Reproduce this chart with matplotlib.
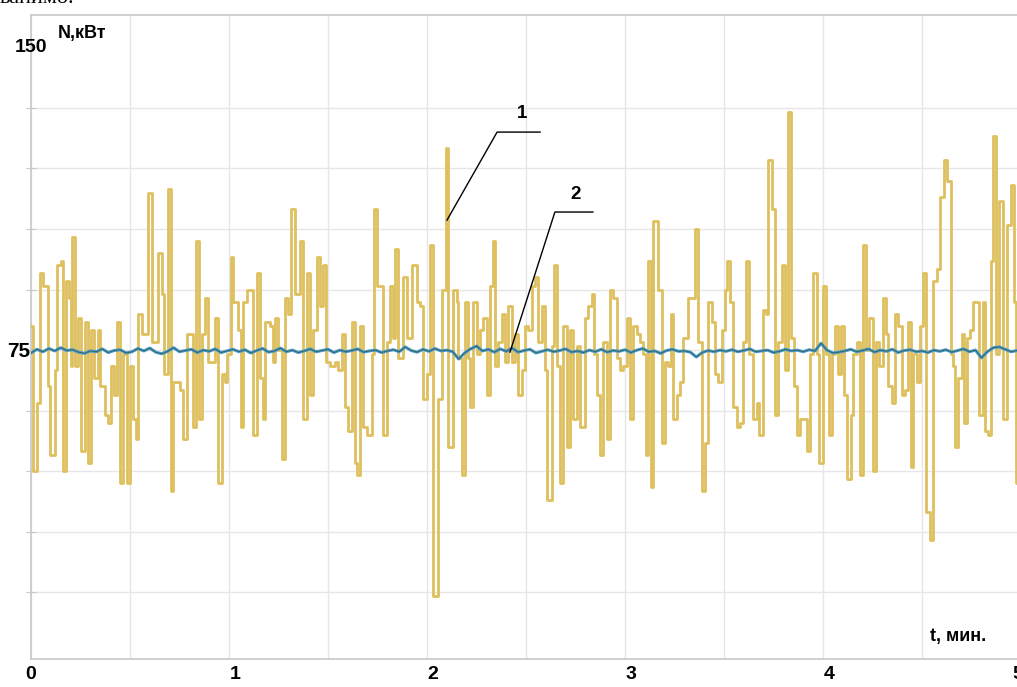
# -*- coding: utf-8 -*-
import numpy as np
import matplotlib
matplotlib.use('Agg')
import matplotlib.pyplot as plt

# curve 1: step signal, time (min) of each step start and its level (kW)
t1 = [0.000, 0.010, 0.030, 0.045, 0.061, 0.086, 0.096, 0.121, 0.131, 0.152,
      0.162, 0.177, 0.192, 0.202, 0.207, 0.222, 0.237, 0.253, 0.273, 0.288,
      0.303, 0.318, 0.338, 0.348, 0.374, 0.389, 0.404, 0.419, 0.434, 0.449,
      0.465, 0.485, 0.500, 0.515, 0.530, 0.540, 0.561, 0.591, 0.611, 0.641,
      0.662, 0.672, 0.692, 0.707, 0.717, 0.753, 0.768, 0.788, 0.818, 0.833,
      0.848, 0.864, 0.879, 0.894, 0.929, 0.944, 0.965, 0.980, 0.990, 1.010,
      1.020, 1.045, 1.061, 1.071, 1.091, 1.121, 1.141,
      1.157, 1.172, 1.182, 1.207, 1.222, 1.232, 1.247, 1.268, 1.283, 1.298,
      1.313, 1.333, 1.359, 1.374, 1.394, 1.409, 1.424, 1.444, 1.460, 1.475,
      1.490, 1.510, 1.535, 1.551, 1.571, 1.586, 1.601, 1.621, 1.636, 1.646,
      1.662, 1.677, 1.697, 1.722, 1.732, 1.747, 1.763, 1.778, 1.798, 1.813,
      1.828, 1.838, 1.854, 1.879, 1.899, 1.924, 1.949, 1.965, 1.980, 2.000,
      2.015, 2.030, 2.056, 2.076, 2.096,
      2.106, 2.131, 2.152, 2.157, 2.177, 2.192, 2.207, 2.217, 2.232, 2.253,
      2.268, 2.283, 2.303, 2.318, 2.333, 2.343, 2.359, 2.379, 2.394, 2.409,
      2.429, 2.444, 2.460, 2.480, 2.495, 2.510, 2.530, 2.545, 2.561, 2.581,
      2.596, 2.606, 2.631, 2.641, 2.657, 2.672, 2.687, 2.707, 2.722, 2.737,
      2.758, 2.773, 2.798, 2.813, 2.833, 2.843, 2.859, 2.874, 2.889, 2.909,
      2.924, 2.939, 2.960, 2.975, 2.990, 3.010, 3.025, 3.040, 3.061, 3.076,
      3.091, 3.106, 3.116, 3.131, 3.141,
      3.167, 3.187, 3.202, 3.217, 3.232, 3.242, 3.263, 3.278, 3.293, 3.318,
      3.338, 3.354, 3.369, 3.389, 3.404, 3.419, 3.439, 3.455, 3.470, 3.490,
      3.505, 3.515, 3.530, 3.545, 3.566, 3.581, 3.596, 3.611, 3.626, 3.646,
      3.667, 3.677, 3.697, 3.712, 3.722, 3.742, 3.758, 3.773, 3.793, 3.808,
      3.823, 3.838, 3.854, 3.869, 3.884, 3.899, 3.919, 3.934, 3.949, 3.970,
      3.980, 4.000, 4.015, 4.030, 4.045, 4.061, 4.076,
      4.091, 4.106, 4.121, 4.141, 4.152, 4.172, 4.187, 4.202, 4.217, 4.232,
      4.253, 4.268, 4.283, 4.303, 4.318, 4.328, 4.348, 4.364, 4.379, 4.399,
      4.414, 4.429, 4.444, 4.455, 4.475, 4.490, 4.505, 4.520, 4.540, 4.556,
      4.576, 4.591, 4.611, 4.626, 4.646, 4.657, 4.667, 4.682, 4.702, 4.712,
      4.727, 4.742, 4.758, 4.778, 4.788, 4.808, 4.818, 4.833, 4.848, 4.859,
      4.874, 4.889, 4.909, 4.929, 4.949, 4.965, 4.975, 5.000]
n1 = [81, 45, 62, 94, 91, 66, 49, 70, 96, 97,
      45, 92, 88, 71, 103, 71, 83, 50, 82, 47,
      80, 68, 80, 66, 59, 57, 71, 64, 82, 42,
      74, 42, 71, 58, 53, 84, 79, 114, 77, 99,
      89, 69, 115, 40, 67, 65, 53, 79, 56, 102,
      58, 79, 88, 72, 83, 42, 69, 67, 74, 98,
      87, 80, 56, 87, 90, 54, 94,
      68, 58, 82, 81, 72, 83, 75, 48, 88, 84,
      110, 89, 102, 58, 94, 64, 80, 98, 86, 96,
      72, 71, 72, 70, 79, 61, 55, 82, 47, 44,
      81, 56, 54, 74, 110, 91, 91, 54, 77, 91,
      78, 100, 73, 93, 78, 96, 87, 86, 63, 69,
      101, 14, 63, 90, 125,
      51, 90, 87, 73, 44, 87, 73, 61, 87, 74,
      80, 83, 64, 91, 102, 71, 77, 84, 72, 86,
      72, 79, 64, 70, 81, 80, 91, 93, 77, 86,
      70, 38, 76, 96, 71, 42, 81, 51, 80, 58,
      76, 56, 83, 86, 89, 74, 64, 49, 77, 53,
      90, 88, 73, 70, 71, 83, 58, 81, 79, 77,
      74, 49, 97, 41, 107,
      90, 52, 72, 71, 84, 58, 64, 67, 78, 88,
      88, 105, 77, 40, 52, 87, 82, 69, 67, 80,
      90, 97, 87, 61, 56, 57, 77, 97, 74, 58,
      62, 54, 85, 84, 122, 110, 59, 77, 96, 70,
      134, 78, 66, 54, 58, 58, 50, 74, 94, 74,
      47, 91, 74, 54, 74, 81, 69,
      81, 64, 43, 59, 74, 77, 44, 101, 75, 83,
      45, 77, 71, 88, 79, 66, 62, 84, 81, 64,
      65, 82, 46, 74, 67, 81, 94, 35, 28, 92,
      95, 113, 122, 117, 74, 71, 51, 68, 79, 57,
      78, 80, 87, 87, 59, 87, 55, 54, 97, 128,
      74, 112, 58, 106, 116, 87, 42, 42]

# curve 2: smoothed power near 75 kW, one reading every 0.03 min
n2 = [74.3, 75.2, 74.6, 75.4, 74.8, 75.6, 74.9, 75.1, 74.5, 74.2,
      74.8, 74.6, 75.3, 74.4, 74.9, 75.1, 74.3, 74.6, 75.4, 74.8,
      75.5, 74.5, 74.1, 74.7, 75.6, 74.6, 74.9, 75.2, 74.4, 75.0,
      74.7, 75.3, 74.4, 74.8, 75.2, 74.6, 75.1, 74.3, 74.9, 75.4,
      74.5, 74.8, 75.5, 74.6, 75.0, 74.4, 74.8, 75.3, 74.6, 74.9,
      75.2, 74.4, 75.0, 74.6, 74.9, 75.3, 74.5, 74.8, 75.0, 74.4,
      74.8, 75.1, 74.6, 75.8, 74.9, 74.5, 75.2, 74.7, 75.4, 74.8,
      75.0, 74.6, 72.8, 74.3, 75.3, 76.0, 74.8, 75.2, 74.5, 75.3,
      74.7, 75.5, 74.5, 74.9, 75.2, 74.3, 74.7, 75.1, 74.6, 74.9,
      75.3, 74.5, 74.8, 74.4, 75.0, 74.6, 75.2, 74.5, 74.9, 74.7,
      75.1, 74.4, 75.0, 75.4, 74.6, 74.8, 74.2, 74.9, 75.2, 74.7,
      74.8, 74.5, 73.3, 74.4, 74.9, 74.6, 75.0, 74.7, 75.1, 74.6,
      74.9, 75.3, 74.6, 74.8, 75.0, 74.4, 74.7, 75.2, 74.8, 75.0,
      74.6, 75.1, 74.8, 76.7, 75.0, 74.3, 74.5, 74.8, 75.2, 74.6,
      74.9, 75.3, 74.5, 75.0, 74.7, 75.2, 74.4, 74.9, 75.1, 74.6,
      74.8, 74.4, 75.0, 74.7, 75.1, 74.5, 74.9, 75.3, 74.6, 75.0,
      73.1, 74.6, 75.6, 75.8, 75.2, 74.6, 74.9]
t2 = np.round(np.arange(len(n2)) * 0.03, 2)

x_labels = [0, 1, 2, 3, 4, 5]
y_grid = [15, 30, 45, 60, 75, 90, 105, 120, 135]

fig = plt.figure(figsize=(10.17, 6.87), dpi=100)
ax = fig.add_axes([31 / 1017, 28 / 687, 990 / 1017, 644 / 687])

ax.step(t1, n1, where='post', color='#DEC05E', lw=2.0, zorder=3)
ax.plot(t2, n2, color='#4A9AD0', lw=2.2, zorder=4)
ax.plot(t2, n2, color='#35685F', lw=0.7, zorder=4)

ax.set_xlim(0, 5)
ax.set_ylim(-1.5, 158)

ax.set_xticks(np.arange(0, 5.01, 0.5))
ax.set_yticks(y_grid)
ax.grid(True, color='#E6E6E6', lw=1.0, zorder=0)
ax.tick_params(axis='x', length=0, labelbottom=False)
ax.tick_params(axis='y', direction='inout', length=7, color='#C8C8C8',
               labelleft=False)
for s in ['left', 'bottom', 'top']:
    ax.spines[s].set_color('#C8C8C8')
    ax.spines[s].set_linewidth(1.2)
ax.spines['right'].set_visible(False)

lab = dict(fontsize=14, fontweight='bold', family='Liberation Sans')
for v in x_labels:
    pos = min(v + 0.03, 4.985) if v else 0.0
    ax.text(pos, -3.2, str(v), ha='center', va='top', clip_on=False, **lab)
ax.text(0.0, 150, '150', ha='center', va='center', clip_on=False, zorder=6, **lab)
ax.text(-0.004, 74.6, '75', ha='right', va='center', clip_on=False, zorder=6,
        fontsize=15, fontweight='bold', family='Liberation Sans')
ax.text(0.135, 153.5, 'N,кВт', ha='left', va='center', fontsize=13,
        fontweight='bold', family='Liberation Sans')
ax.text(4.54, 4.0, 't, мин.', ha='left', va='center', fontsize=13,
        fontweight='bold', family='Liberation Sans')

# leaders
ax.plot([2.101, 2.354, 2.571], [107.2, 129.0, 129.0], color='black', lw=1.0, zorder=5)
ax.text(2.48, 131.5, '1', ha='center', va='bottom', fontsize=13.5, fontweight='bold',
        family='Liberation Sans')
ax.plot([2.419, 2.646, 2.838], [74.5, 109.2, 109.2], color='black', lw=1.0, zorder=5)
ax.text(2.75, 111.5, '2', ha='center', va='bottom', fontsize=13.5, fontweight='bold',
        family='Liberation Sans')

# bit of page text cut off at the top
fig.text(0.0, 1.0 - 3 / 687, 'ванимо.', ha='left', va='baseline', fontsize=16,
         family='Liberation Serif')

fig.savefig('out.png', dpi=100)
